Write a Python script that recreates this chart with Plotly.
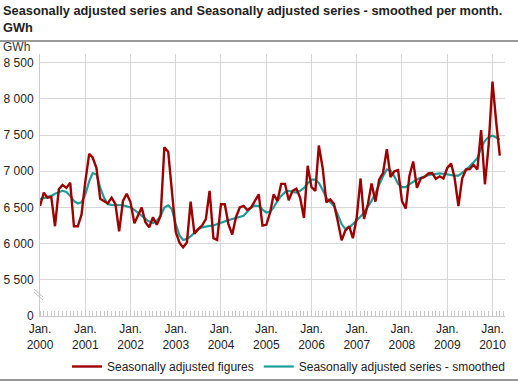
import pandas as pd
import plotly.graph_objects as go

# Monthly data Jan 2000 - Mar 2010 (GWh)
months = pd.date_range("2000-01-01", periods=123, freq="MS")

seasonally_adjusted = [
    6520, 6705, 6635, 6645, 6240, 6750, 6810, 6770, 6840, 6240, 6240, 6400,
    6860, 7240, 7190, 7045, 6620, 6590, 6555, 6635, 6545, 6170, 6590, 6690,
    6570, 6280, 6385, 6500, 6295, 6225, 6365, 6260, 6385, 7330, 7270, 6770,
    6160, 6010, 5950, 6015, 6580, 6135, 6200, 6250, 6340, 6730, 6075, 6050,
    6545, 6545, 6270, 6125, 6365, 6500, 6520, 6465, 6500, 6590, 6680, 6250,
    6260, 6430, 6680, 6590, 6825, 6825, 6600, 6730, 6760, 6635, 6355, 7075,
    6780, 6730, 7355, 7045, 6570, 6610, 6550, 6310, 6045, 6180, 6240, 6075,
    6365, 6900, 6340, 6545, 6830, 6580, 6885, 6975, 7305, 6920, 7000, 7015,
    6590, 6485, 6930, 7135, 6770, 6900, 6920, 6970, 6975, 6895, 6930, 6900,
    7045, 7105, 6910, 6520, 6900, 7025, 7030, 7090, 7025, 7570, 6820, 7365,
    8240, 7660, 7215,
]

smoothed = [
    6615, 6630, 6645, 6660, 6690, 6715, 6730, 6715, 6660, 6590, 6555, 6570,
    6680, 6860, 6975, 6955, 6770, 6635, 6545, 6535, 6535, 6535, 6530, 6515,
    6500, 6465, 6430, 6385, 6340, 6305, 6285, 6315, 6385, 6500, 6530, 6475,
    6270, 6110, 6050, 6065, 6100, 6150, 6200, 6225, 6240, 6245, 6250, 6270,
    6295, 6310, 6325, 6340, 6355, 6370, 6385, 6440, 6500, 6525, 6520, 6470,
    6430, 6440, 6500, 6590, 6660, 6710, 6730, 6715, 6705, 6730, 6770, 6830,
    6885, 6885, 6840, 6740, 6635, 6570, 6520, 6400, 6270, 6200, 6225, 6270,
    6320, 6375, 6430, 6510, 6590, 6700, 6820, 6930, 7025, 7010, 6930, 6825,
    6780, 6780, 6820, 6855, 6885, 6910, 6930, 6945, 6955, 6965, 6970, 6965,
    6955, 6945, 6940, 6940, 6975, 7020, 7070, 7125, 7180, 7320, 7420, 7475,
    7490, 7465, 7440,
]

years = list(range(2000, 2011))
x_tick_vals = [f"{y}-01-01" for y in years]
x_tick_text = [f"Jan.<br>{y}" for y in years]

y_tick_vals = [5000, 5500, 6000, 6500, 7000, 7500, 8000, 8500]
y_tick_text = ["0", "5 500", "6 000", "6 500", "7 000", "7 500", "8 000", "8 500"]

RED = "#9c0000"
TEAL = "#1a9e99"
FONT = "Liberation Sans, Arial, sans-serif"

fig = go.Figure()
fig.add_trace(go.Scatter(
    x=months, y=smoothed, mode="lines", name="Seasonally adjusted series - smoothed",
    line=dict(color=TEAL, width=2.2), legendrank=2,
))
fig.add_trace(go.Scatter(
    x=months, y=seasonally_adjusted, mode="lines", name="Seasonally adjusted figures",
    line=dict(color=RED, width=2.4), legendrank=1,
))

L, R, T, B = 40, 13, 54, 67
W, H = 518, 383
pw, ph = W - L - R, H - T - B


def px_x(p):
    return (p - L) / pw


def px_y(p):
    return (H - B - p) / ph


fig.update_layout(
    width=W, height=H,
    margin=dict(l=L, r=R, t=T, b=B, autoexpand=False),
    paper_bgcolor="white", plot_bgcolor="white",
    font=dict(family=FONT, size=12, color="#222"),
    showlegend=True,
    legend=dict(orientation="h", x=px_x(510), xanchor="right", y=px_y(352), yanchor="top",
                font=dict(size=12, color="#222"), itemwidth=30,
                traceorder="normal", bgcolor="rgba(0,0,0,0)"),
    xaxis=dict(
        type="date", range=["2000-01-01", "2010-04-12"],
        tickvals=x_tick_vals, ticktext=x_tick_text,
        showgrid=True, gridcolor="#d6d6d6", gridwidth=1,
        ticks="", showline=True, linecolor="#cccccc", linewidth=1,
        tickfont=dict(size=12, color="#222"), automargin=False,
        ticklabelstandoff=2,
        minor=dict(dtick="M1", ticks="inside", ticklen=5, tickcolor="#c8c8c8",
                   showgrid=False),
        zeroline=False,
    ),
    yaxis=dict(
        range=[5000, 8620],
        tickvals=y_tick_vals, ticktext=y_tick_text,
        showgrid=True, gridcolor="#d6d6d6", gridwidth=1,
        showline=True, linecolor="#cccccc", linewidth=1, automargin=False,
        ticks="", zeroline=False, tickfont=dict(size=12, color="#222"),
        ticklabelstandoff=3,
    ),
    annotations=[
        dict(xref="paper", yref="paper", x=px_x(1), y=px_y(1), xanchor="left", yanchor="top",
             text="<b>Seasonally adjusted series and Seasonally adjusted series - smoothed per month.<br>GWh</b>",
             showarrow=False, align="left", font=dict(size=12.8, color="#222", family=FONT)),
        dict(xref="paper", yref="paper", x=px_x(1), y=px_y(47), xanchor="left", yanchor="middle",
             text="GWh", showarrow=False, font=dict(size=12, color="#333")),
    ],
    shapes=[
        dict(type="line", xref="paper", yref="paper", x0=px_x(0), x1=px_x(W),
             y0=px_y(41), y1=px_y(41), line=dict(color="#999999", width=2)),
        dict(type="line", xref="paper", yref="paper", x0=px_x(0), x1=px_x(W),
             y0=px_y(380), y1=px_y(380), line=dict(color="#999999", width=2)),
        # axis break marks
        dict(type="line", xref="paper", yref="paper", x0=px_x(34), x1=px_x(43),
             y0=px_y(289), y1=px_y(297), line=dict(color="#bbbbbb", width=1)),
        dict(type="line", xref="paper", yref="paper", x0=px_x(34), x1=px_x(43),
             y0=px_y(292), y1=px_y(300), line=dict(color="#bbbbbb", width=1)),
    ],
)

fig.write_html("out.html", config={"displayModeBar": False},
               post_script="document.body.style.margin='0';")
